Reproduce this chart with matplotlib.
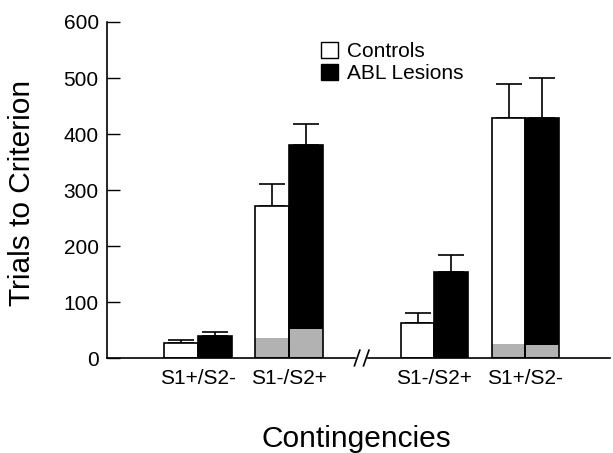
import numpy as np
import matplotlib.pyplot as plt
from matplotlib.patches import Patch

plt.rcParams['font.family'] = ['Liberation Sans', 'DejaVu Sans']

# data
groups = ['S1+/S2-', 'S1-/S2+', 'S1-/S2+', 'S1+/S2-']
controls_mean = [27, 271, 62, 429]
controls_sem = [5, 40, 18, 60]
lesion_mean = [39, 380, 153, 429]
lesion_sem = [7, 37, 31, 71]
# gray lower part of the bars
controls_gray = [0, 36, 0, 25]
lesion_gray = [0, 52, 0, 24]

# group centres, with a gap for the axis break
pos = np.array([1.0, 2.0, 3.6, 4.6])
w = 0.37
grey = '#b2b2b2'

fig = plt.figure(figsize=(6.13, 4.53), dpi=100)
ax = fig.add_axes([107/613, 95/453, 503/613, 336/453])

xc = pos - w/2
xl = pos + w/2

# filled bars
ax.bar(xc, controls_mean, w, color='white', edgecolor='none', zorder=1)
ax.bar(xl, lesion_mean, w, color='black', edgecolor='none', zorder=1)
ax.bar(xc, controls_gray, w, color=grey, edgecolor='none', zorder=2)
ax.bar(xl, lesion_gray, w, color=grey, edgecolor='none', zorder=2)
# outlines
ax.bar(xc, controls_mean, w, fill=False, edgecolor='black', linewidth=1.2, zorder=3)
ax.bar(xl, lesion_mean, w, fill=False, edgecolor='black', linewidth=1.2, zorder=3)

# upward error bars only
ax.errorbar(xc, controls_mean, yerr=[np.zeros(4), controls_sem], fmt='none',
            ecolor='black', elinewidth=1.2, capsize=9.7, capthick=1.2, zorder=0)
ax.errorbar(xl, lesion_mean, yerr=[np.zeros(4), lesion_sem], fmt='none',
            ecolor='black', elinewidth=1.2, capsize=9.7, capthick=1.2, zorder=0)

ax.set_xlim(0, 5.53)
ax.set_ylim(0, 600)
ax.set_yticks([0, 100, 200, 300, 400, 500, 600])
ax.tick_params(axis='y', direction='in', length=9, width=1, labelsize=15, pad=6)
ax.set_xticks(pos)
ax.set_xticklabels(groups)
ax.tick_params(axis='x', length=0, labelsize=15, pad=8)

for s in ['top', 'right', 'bottom']:
    ax.spines[s].set_visible(False)
ax.spines['left'].set_linewidth(1.2)

# broken baseline
brk = 2.8
ax.plot([0, brk - 0.07], [0, 0], color='black', lw=1.2, clip_on=False, zorder=4)
ax.plot([brk + 0.07, 5.53], [0, 0], color='black', lw=1.2, clip_on=False, zorder=4)
for bx in [brk - 0.05, brk + 0.05]:
    ax.plot([bx - 0.03, bx + 0.03], [-14, 14], color='black', lw=1.2,
            clip_on=False, zorder=4)

handles = [Patch(facecolor='white', edgecolor='black', label='Controls'),
           Patch(facecolor='black', edgecolor='black', label='ABL Lesions')]
ax.legend(handles=handles, loc='upper left', bbox_to_anchor=(0.425, 0.94),
          frameon=False, fontsize=15, handlelength=0.82, handleheight=0.8,
          handletextpad=0.45, labelspacing=0.12, borderpad=0, borderaxespad=0)

fig.text(22/613, 1 - 193/453, 'Trials to Criterion', rotation=90,
         ha='center', va='center', fontsize=21.5)
fig.text(356/613, 1 - 439/453, 'Contingencies', ha='center', va='center',
         fontsize=21.5)

fig.savefig('out.png', dpi=100)
